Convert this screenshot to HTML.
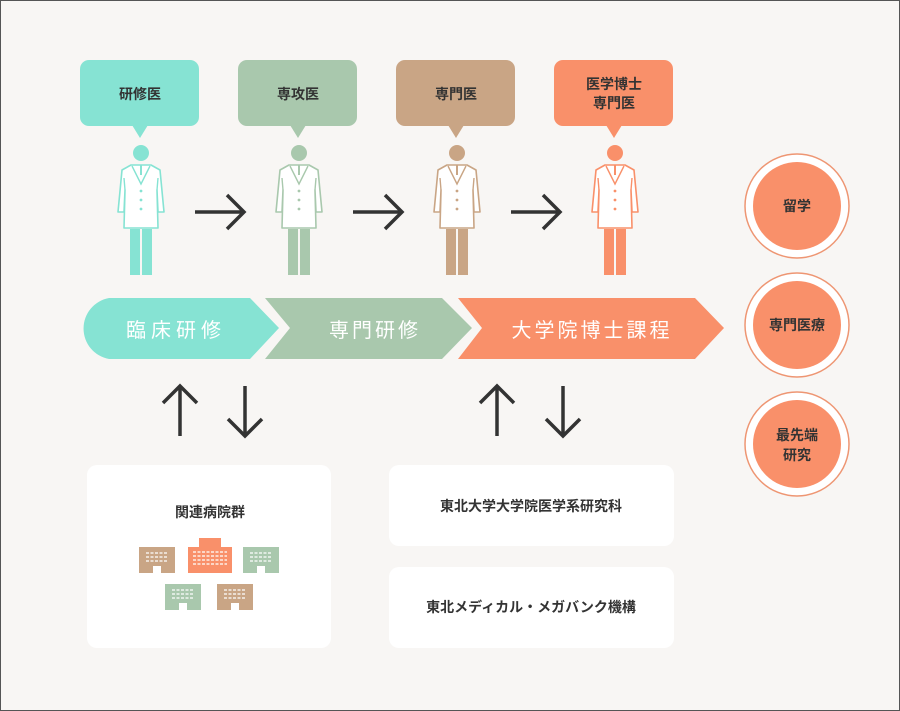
<!DOCTYPE html>
<html><head><meta charset="utf-8"><style>
body{margin:0;background:#fff}
svg{display:block}
text{font-family:"Liberation Sans","Noto Sans CJK JP",sans-serif;font-weight:bold}
text.band{font-weight:normal}
</style></head><body>
<svg width="900" height="711" viewBox="0 0 900 711" xmlns="http://www.w3.org/2000/svg">
<defs>
<g id="doc">
  <circle cx="0" cy="153" r="8" fill="currentColor"/>
  <rect x="-11" y="229" width="10" height="46" fill="currentColor"/>
  <rect x="1" y="229" width="10" height="46" fill="currentColor"/>
  <path d="M-10 165 L10 165 L19 170 L23 212 L17 212 L16 190 L17 228 L-17 228 L-16 190 L-17 212 L-23 212 L-19 170 Z" fill="#fff" stroke="currentColor" stroke-width="1.6" stroke-linejoin="round"/>
  <path d="M-16 190 L-17 178 M16 190 L17 178" stroke="currentColor" stroke-width="1.4" fill="none"/>
  <path d="M-9 166 L0 184 L9 166" fill="none" stroke="currentColor" stroke-width="1.4"/>
  <rect x="-1" y="165" width="2" height="10" fill="currentColor"/>
  <circle cx="0" cy="191" r="1.4" fill="currentColor"/>
  <circle cx="0" cy="200" r="1.4" fill="currentColor"/>
  <circle cx="0" cy="209" r="1.4" fill="currentColor"/>
</g>
<g id="bld">
  <rect x="0" y="0" width="36" height="26" fill="currentColor"/>
  <g stroke="#fff" stroke-width="1.2" stroke-dasharray="3 1.5">
    <line x1="7" y1="6" x2="29" y2="6"/><line x1="7" y1="10" x2="29" y2="10"/><line x1="7" y1="14" x2="29" y2="14"/>
  </g>
  <rect x="14" y="19" width="8" height="7" fill="#fff"/>
</g>
</defs>
<rect x="0.5" y="0.5" width="899" height="710" fill="#f8f6f4" stroke="#555"/>

<g>
<rect x="80" y="60" width="119" height="66" rx="9" fill="#86e3d3"/><path d="M132 125 L140 138 L148 125Z" fill="#86e3d3"/>
<text x="140" y="99" font-size="14" text-anchor="middle" fill="#333">研修医</text>
<rect x="238" y="60" width="119" height="66" rx="9" fill="#a9c8ad"/><path d="M290 125 L298 138 L306 125Z" fill="#a9c8ad"/>
<text x="298" y="99" font-size="14" text-anchor="middle" fill="#333">専攻医</text>
<rect x="396" y="60" width="119" height="66" rx="9" fill="#c9a585"/><path d="M448 125 L456 138 L464 125Z" fill="#c9a585"/>
<text x="456" y="99" font-size="14" text-anchor="middle" fill="#333">専門医</text>
<rect x="554" y="60" width="119" height="66" rx="9" fill="#f9906a"/><path d="M606 125 L614 138 L622 125Z" fill="#f9906a"/>
<text x="614" y="89" font-size="14" text-anchor="middle" fill="#333">医学博士</text>
<text x="614" y="108" font-size="14" text-anchor="middle" fill="#333">専門医</text>
</g>

<use href="#doc" x="141" style="color:#86e3d3"/>
<use href="#doc" x="299" style="color:#a9c8ad"/>
<use href="#doc" x="457" style="color:#c9a585"/>
<use href="#doc" x="615" style="color:#f9906a"/>

<g stroke="#333" stroke-width="3.5" fill="none">
<path d="M195 212 H243 M227 195 L244 212 L227 229"/>
<path d="M353 212 H401 M385 195 L402 212 L385 229"/>
<path d="M511 212 H559 M543 195 L560 212 L543 229"/>
<path d="M180 436 V386 M163 403 L180 386 L197 403"/>
<path d="M245 386 V436 M228 419 L245 436 L262 419"/>
<path d="M497 436 V386 M480 403 L497 386 L514 403"/>
<path d="M563 386 V436 M546 419 L563 436 L580 419"/>
</g>

<path d="M109 298 H250 L279 328 L250 359 H109 A31 31 0 0 1 109 298Z" fill="#86e3d3"/>
<path d="M265 298 H442 L472 328 L442 359 H265 L290 328Z" fill="#a9c8ad"/>
<path d="M458 298 H695 L724 328 L695 359 H458 L482 328Z" fill="#f9906a"/>
<text class="band" x="176" y="337" font-size="20" text-anchor="middle" fill="#fff" letter-spacing="5">臨床研修</text>
<text class="band" x="375" y="337" font-size="20" text-anchor="middle" fill="#fff" letter-spacing="3">専門研修</text>
<text class="band" x="592" y="337" font-size="20" text-anchor="middle" fill="#fff" letter-spacing="3">大学院博士課程</text>

<g fill="#fff" stroke="#ee9673" stroke-width="1.5">
<circle cx="797" cy="206" r="52"/><circle cx="797" cy="325" r="52"/><circle cx="797" cy="444" r="52"/>
</g>
<g fill="#f9906a">
<circle cx="797" cy="206" r="44"/><circle cx="797" cy="325" r="44"/><circle cx="797" cy="444" r="44"/>
</g>
<text x="797" y="211" font-size="14" text-anchor="middle" fill="#333">留学</text>
<text x="797" y="330" font-size="14" text-anchor="middle" fill="#333">専門医療</text>
<text x="797" y="440" font-size="14" text-anchor="middle" fill="#333">最先端</text>
<text x="797" y="460" font-size="14" text-anchor="middle" fill="#333">研究</text>

<rect x="87" y="465" width="244" height="183" rx="10" fill="#fff"/>
<rect x="389" y="465" width="285" height="81" rx="10" fill="#fff"/>
<rect x="389" y="567" width="285" height="81" rx="10" fill="#fff"/>
<text x="210" y="517" font-size="14" text-anchor="middle" fill="#333">関連病院群</text>
<text x="531" y="511" font-size="14" text-anchor="middle" fill="#333">東北大学大学院医学系研究科</text>
<text x="531" y="612" font-size="14" text-anchor="middle" fill="#333">東北メディカル・メガバンク機構</text>
<use href="#bld" x="139" y="547" style="color:#c9a585"/>
<use href="#bld" x="243" y="547" style="color:#a9c8ad"/>
<use href="#bld" x="165" y="584" style="color:#a9c8ad"/>
<use href="#bld" x="217" y="584" style="color:#c9a585"/>
<g>
<rect x="199" y="538" width="22" height="10" fill="#f9906a"/>
<rect x="188" y="547" width="44" height="26" fill="#f9906a"/>
<g stroke="#fff" stroke-width="1.2" stroke-dasharray="3 1.5">
<line x1="193" y1="552" x2="227" y2="552"/><line x1="193" y1="556" x2="227" y2="556"/><line x1="193" y1="560" x2="227" y2="560"/><line x1="193" y1="564" x2="227" y2="564"/>
</g>
</g>
</svg>
</body></html>
